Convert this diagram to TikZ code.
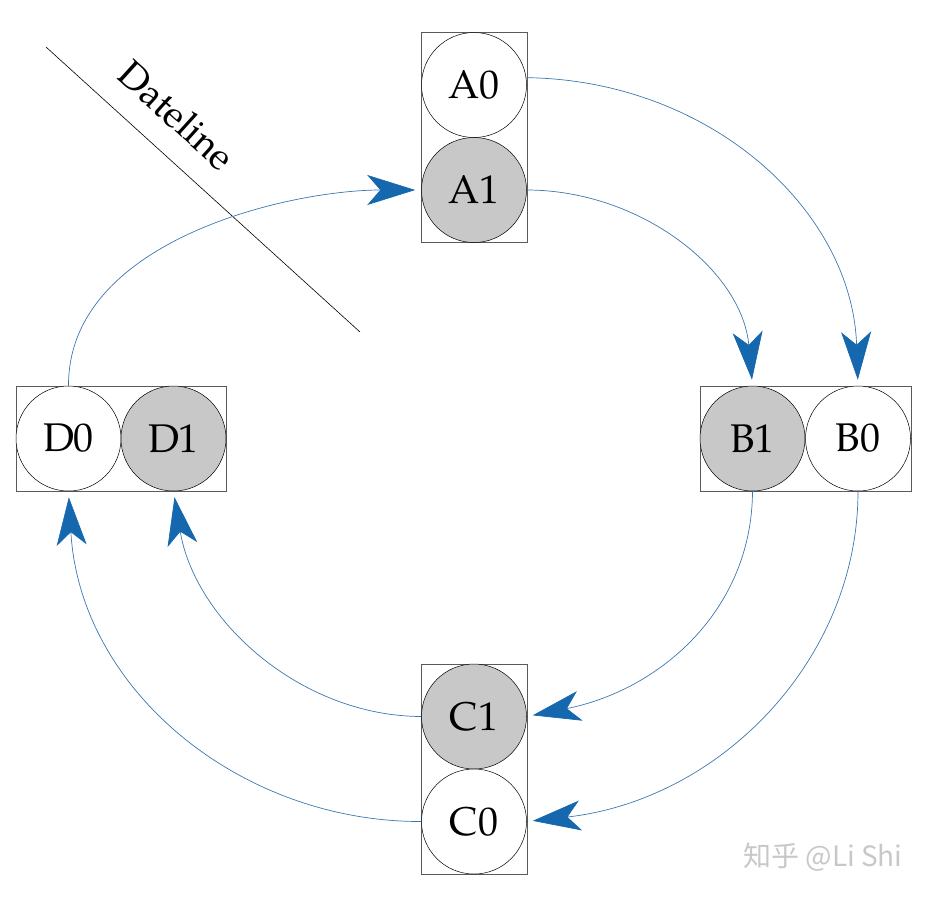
\documentclass[tikz,border=0pt]{standalone}
\usepackage{fontspec}
\setmainfont{texgyrepagella-regular.otf}
\newfontfamily\cjk{Noto Sans CJK SC}
\usetikzlibrary{arrows.meta}
\definecolor{arrowblue}{RGB}{22,104,174}
\definecolor{lineblue}{RGB}{60,120,175}
\definecolor{cellgray}{RGB}{200,200,200}
\definecolor{boxgray}{RGB}{90,90,90}
\definecolor{markgray}{RGB}{200,200,200}
\tikzset{
  holder/.style={draw=boxgray, line width=0.8pt, inner sep=0pt},
  cell/.style={circle, draw=black, line width=0.5pt, fill=white, minimum size=105pt, inner sep=0pt, font=\fontsize{40}{40}\selectfont},
  busy/.style={cell, fill=cellgray},
  link/.style={draw=lineblue, line width=0.7pt, shorten >=6pt,
    -{Stealth[length=48pt, width=30pt, inset=13pt, color=arrowblue]}},
  dateline/.style={draw=black, line width=0.6pt}
}
\begin{document}
\begin{tikzpicture}[x=1pt, y=-1pt]
\useasboundingbox (0,0) rectangle (926,898);
% holders
\node[holder, minimum width=106pt, minimum height=210pt] (boxA) at (474,137) {};
\node[holder, minimum width=211pt, minimum height=105pt] (boxB) at (805.5,438.5) {};
\node[holder, minimum width=106pt, minimum height=210pt] (boxC) at (474,769) {};
\node[holder, minimum width=210pt, minimum height=105pt] (boxD) at (121,438.5) {};
% cells
\node[cell] (A0) at (474,85) {A0};
\node[busy] (A1) at (474,190) {A1};
\node[busy] (B1) at (752.5,438.5) {B1};
\node[cell] (B0) at (858,438.5) {B0};
\node[busy] (C1) at (474,716.5) {C1};
\node[cell] (C0) at (474,821.5) {C0};
\node[cell] (D0) at (68.5,438.5) {D0};
\node[busy] (D1) at (173.5,438.5) {D1};
% dateline
\coordinate (dl1) at (46,47);
\coordinate (dl2) at (360,332);
\draw[dateline] (dl1) -- (dl2);
\node[rotate=-42.2, font=\fontsize{38}{38}\selectfont] (dltext) at (177,115) {Dateline};
% links
\draw[link] (A0.8) .. controls (710,80) and (852,210) .. (B0.north);
\draw[link] (A1.east) .. controls (640,190) and (742,270) .. (B1.north);
\draw[link] (B1.south) .. controls (752,610) and (660,690) .. (C1.east);
\draw[link] (B0.south) .. controls (858,660) and (720,800) .. (C0.east);
\draw[link] (C1.west) .. controls (300,716) and (195,620) .. (D1.south);
\draw[link] (C0.west) .. controls (240,822) and (80,690) .. (D0.south);
\draw[link] (D0.north) .. controls (68,240) and (290,190) .. (A1.west);
% watermark
\node[text=markgray, font=\cjk\fontsize{28}{28}\selectfont, anchor=center] (mark) at (823,857) {知乎 @Li Shi};
\end{tikzpicture}
\end{document}
